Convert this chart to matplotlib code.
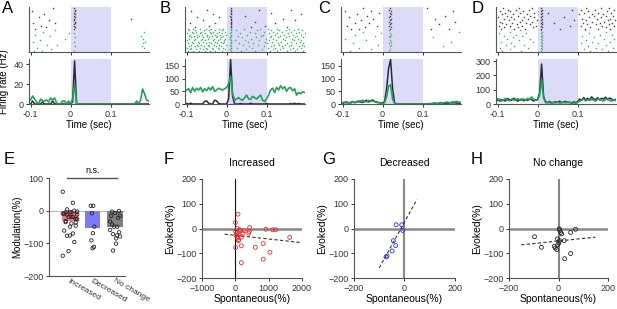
import matplotlib
matplotlib.use("Agg")
import matplotlib.pyplot as plt
import numpy as np

plt.rcParams['font.family'] = ['Liberation Sans', 'DejaVu Sans']
plt.rcParams['font.size'] = 7

W, H = 617, 309

# ---- raster spike times (ms), one list per trial, bottom row first ----
a_green = [[-92, -72, 9], [-48], [-85, 183], [10, 178], [-60, -35], [182], [-95, 9, 186],
           [-77], [-15, 180], [10], [-52, 175], [-88], [-5, 9], [-70, 184], [-40]]
a_black = [[-88, 9], [-62, 10], [-75, 8], [9], [-93, -40, 10], [11], [-55, 9], [9, 150],
           [-80, 10], [8], [-67, 10], [9], [-97, 11], [10], [-45, 9]]

b_green = [[-97, -84, -70, -55, -41, -28, -12, 10, 35, 72, 108, 126, 150, 171, 190],
           [-92, -77, -60, -49, -33, -18, -4, 9, 48, 88, 115, 133, 158, 177],
           [-99, -88, -66, -52, -37, -22, -8, 11, 25, 64, 104, 121, 142, 166, 186],
           [-94, -80, -71, -57, -45, -26, -14, 10, 57, 93, 111, 138, 155, 181, 194],
           [-90, -74, -63, -46, -31, -19, -2, 9, 40, 79, 119, 131, 147, 162, 188],
           [-96, -83, -68, -51, -39, -24, -10, 12, 30, 67, 102, 128, 152, 174, 192],
           [-86, -72, -58, -43, -29, -15, -6, 10, 53, 96, 113, 136, 160, 183],
           [-98, -81, -65, -54, -35, -21, -7, 11, 20, 45, 82, 107, 124, 145, 169, 187],
           [-93, -78, -62, -47, -32, -17, -3, 9, 61, 99, 117, 140, 163, 179],
           [-89, -75, -59, -44, -27, -13, 8, 38, 74, 109, 129, 149, 172, 191],
           [-95, -82, -69, -50, -36, -23, -9, 10, 28, 86, 112, 134, 157, 176],
           [-91, -73, -61, -48, -30, -16, -1, 11, 50, 91, 121, 143, 165, 185],
           [-99, -85, -67, -53, -40, -25, -11, 9, 33, 70, 105, 127, 153, 173, 195],
           [-87, -76, -64, -42, -34, -20, -5, 10, 58, 94, 116, 139, 161, 182],
           [-94, -79, -57, -45, -28, -12, 12, 24, 77, 110, 132, 148, 168, 189],
           [-97, -83, -66, -52, -38, -19, -8, 10, 44, 84, 103, 125, 156, 178]]
b_black = [[-80, 11, 60, 150], [-45, 10, 95], [11], [-92, -30, 10, 120], [10, 70],
           [-60, 12, 170], [11, 140], [-75, -20, 10], [9, 45], [-35, 11, 185], [10, 110],
           [-88, 11], [-50, 10, 80, 160], [12]]

c_green = [[-82, 17], [-30, 19], [-60], [18, 150], [-12, 20], [-75, 16], [21, 170], [-42, 18],
           [-95], [19, 125], [-20, 17], [-68, 20], [-5, 18], [-50, 190], [16]]
c_black = [[-78, -60, 18, 120, 165], [-45, 20], [-90, -15, 17], [19, 140], [-70, -35, 21],
           [16, 180], [-55, 18], [-25, 20, 130], [-85, 17], [-40, 19, 155], [-65, 22],
           [-10, 18], [-95, -30, 20, 175], [17], [-50, 19, 110]]

d_green = [[-88, -42, 9, 130, 176], [-70, 10, 115, 160], [-95, -25, 9, 145, 188], [-58, 10, 125],
           [-80, -33, 9, 170], [-66, 10, 108, 150], [-91, -12, 9, 135, 182], [-47, 10, 120],
           [-76, -20, 9, 165, 192], [-62, 10, 140], [-85, -38, 9, 112], [-53, 10, 155, 185],
           [-97, -28, 9, 128], [-68, 10, 172], [-45, 9, 118]]
d_black = [[-92, -60, -31, 9, 55, 118, 150, 182], [-85, -48, -12, 10, 132, 170],
           [-97, -70, -40, -5, 9, 80, 109, 161, 190], [-78, -52, -20, 10, 124, 145, 178],
           [-88, -64, -28, 8, 40, 114, 156, 186], [-95, -45, -15, 10, 137, 167],
           [-72, -38, -2, 9, 90, 120, 175, 193], [-83, -58, -25, 10, 111, 148, 181],
           [-99, -66, -33, -8, 9, 65, 128, 159], [-76, -50, -18, 10, 140, 171, 188],
           [-90, -62, -27, 9, 104, 135, 163], [-81, -43, -10, 10, 25, 117, 152, 184],
           [-94, -68, -36, 8, 127, 173], [-74, -55, -22, 10, 85, 108, 143, 191],
           [-87, -47, -14, 9, 122, 158, 179]]

# ---- PSTH (Hz), 5 ms bins from -0.1 s ----
t_bins = np.arange(60) * 0.005 - 0.1
a_psth_green = [4, 8, 5, 2, 0, 5, 3, 3, 4, 2, 6, 4, 6, 1, 0, 0, 3, 3, 0, 3,
                0, 5, 20, 0, 0, 0, 0, 0, 0, 0, 0, 0, 0, 0, 0, 0, 0, 0, 0, 0,
                0, 0, 0, 0, 0, 0, 0, 0, 0, 0, 0, 0, 0, 3, 0, 4, 15, 10, 4, 3]
a_psth_black = [0, 3, 0, 0, 0, 0, 2, 0, 0, 0, 0, 3, 0, 0, 0, 0, 0, 0, 0, 0,
                0, 2, 43, 0, 0, 0, 0, 0, 0, 0, 0, 0, 0, 0, 0, 0, 0, 0, 0, 0,
                0, 0, 0, 0, 0, 0, 0, 0, 0, 0, 0, 0, 0, 0, 0, 0, 0, 0, 0, 0]
b_psth_green = [55, 60, 45, 65, 50, 62, 55, 65, 48, 60, 52, 65, 55, 68, 50, 55, 62, 58, 55, 60,
                65, 80, 110, 40, 15, 20, 25, 18, 15, 25, 35, 20, 18, 30, 25, 20, 28, 35, 15, 10,
                20, 35, 55, 62, 45, 65, 55, 72, 60, 68, 50, 62, 65, 52, 60, 35, 45, 40, 48, 45]
b_psth_black = [2, 0, 3, 0, 0, 0, 0, 0, 0, 10, 12, 3, 0, 0, 15, 12, 2, 0, 0, 0,
                0, 20, 175, 30, 0, 0, 0, 2, 0, 0, 0, 0, 3, 0, 0, 0, 0, 0, 0, 0,
                2, 0, 0, 0, 0, 0, 0, 0, 0, 0, 0, 0, 2, 0, 3, 0, 2, 0, 0, 0]
c_psth_green = [5, 8, 4, 6, 3, 8, 5, 10, 7, 12, 15, 10, 8, 14, 10, 12, 9, 6, 5, 4,
                2, 5, 30, 70, 75, 20, 2, 0, 0, 0, 0, 0, 0, 0, 0, 0, 0, 0, 0, 0,
                0, 0, 0, 2, 0, 3, 5, 2, 4, 6, 3, 5, 8, 6, 4, 9, 7, 10, 8, 6]
c_psth_black = [3, 5, 8, 4, 6, 10, 5, 8, 12, 8, 6, 10, 15, 8, 12, 16, 10, 8, 6, 5,
                3, 10, 60, 140, 175, 60, 5, 0, 0, 0, 0, 0, 0, 0, 0, 0, 0, 0, 0, 0,
                0, 0, 0, 0, 2, 0, 3, 0, 2, 5, 3, 2, 4, 3, 6, 4, 5, 3, 4, 2]
d_psth_green = [25, 35, 20, 30, 40, 28, 22, 35, 30, 25, 38, 30, 26, 35, 28, 40, 32, 50, 30, 25,
                30, 60, 170, 40, 10, 8, 12, 5, 10, 8, 15, 6, 10, 12, 8, 15, 10, 5, 8, 6,
                10, 20, 28, 35, 22, 30, 25, 32, 28, 20, 35, 30, 25, 22, 30, 38, 25, 20, 30, 25]
d_psth_black = [35, 20, 30, 25, 22, 38, 30, 25, 40, 32, 20, 28, 35, 22, 30, 25, 35, 30, 20, 30,
                30, 80, 280, 50, 15, 10, 18, 8, 12, 15, 10, 20, 8, 15, 18, 10, 12, 8, 15, 10,
                15, 35, 25, 45, 30, 40, 28, 50, 35, 30, 45, 28, 40, 35, 48, 30, 42, 35, 25, 32]
psth_ymax = [45, 177, 177, 315]
psth_yticks = [[0, 20, 40], [0, 50, 100, 150], [0, 50, 100, 150], [0, 100, 200, 300]]

# ---- E: groups ----
groups = ['Increased', 'Decreased', 'No change']
bar_colors = ['#f07878', '#7b7bf2', '#808080']

# ---- F/G/H scatter (spontaneous %, evoked %) ----
f_spont = [80, 0, 430, 920, 1120, 1210, 1630, 600, 835, 1040, 835, 180, 180, 10,
           10, 50, 80, 100, 130, 150, 60, 230, 260, 400, 420, 110, 70, 180, 20, 90]
f_evoked = [58, 24, 4, -3, -5, -5, -36, -76, -61, -96, -124, -138, -70, -77,
            -12, -19, -32, -46, -5, -9, 0, -19, -9, -19, -12, -26, -39, -35, -26, -49]
f_fit_x, f_fit_y = [-320, 1990], [-23, -57]

g_spont = [-33, -11, -7, -44, -35, -49, -69, -73]
g_evoked = [15, 15, -8, -49, -69, -91, -111, -115]
g_fit_x, g_fit_y = [-100, 49], [-159, 117]

h_spont = [-97, -69, -17, -13, -7, -4, 3, 5, 9, 13, 4, 1, 23, 25, 49, 49, 69, -3]
h_evoked = [-33, -76, -72, -79, -85, -42, -1, -7, -16, -22, -49, -59, -49, -122, -16, -101, -3, -66]
h_fit_x, h_fit_y = [-151, 149], [-66, -35]

GREEN = '#22a05a'
DARK = '#2a2a3e'
LAV = '#dcdcf8'
SPINE = '#555555'


def axes_px(fig, left, right, top, bottom):
    return fig.add_axes([left / W, 1 - bottom / H, (right - left) / W, (bottom - top) / H])


def style(ax):
    for s in ['top', 'right']:
        ax.spines[s].set_visible(False)
    for s in ['left', 'bottom']:
        ax.spines[s].set_color(SPINE)
        ax.spines[s].set_linewidth(0.8)
    ax.tick_params(colors='#333333', length=2.5, width=0.7, labelsize=6.5, pad=1.5)


fig = plt.figure(figsize=(W / 100, H / 100), dpi=100)

rasters = [(a_green, a_black), (b_green, b_black), (c_green, c_black), (d_green, d_black)]
psths = [(a_psth_green, a_psth_black), (b_psth_green, b_psth_black),
         (c_psth_green, c_psth_black), (d_psth_green, d_psth_black)]
lefts = [29, 185, 341, 496]
letters_top = [('A', 2), ('B', 160), ('C', 318), ('D', 472)]

for i in range(4):
    l = lefts[i]
    r = l + 120
    axr = axes_px(fig, l, r, 7, 52)
    style(axr)
    axr.axvspan(0, 0.1, color=LAV, zorder=0, lw=0)
    green, black = rasters[i]
    row = 0
    for trial in green:
        axr.plot(np.array(trial) / 1000, [row] * len(trial), ls='', marker='s',
                 ms=1.0, mew=0, color='#3db070')
        row += 1
    for trial in black:
        axr.plot(np.array(trial) / 1000, [row] * len(trial), ls='', marker='s',
                 ms=1.0, mew=0, color='#404050')
        row += 1
    axr.set_xlim(-0.104, 0.196)
    axr.set_ylim(-1, row)
    axr.set_xticks([-0.1, 0, 0.1])
    axr.set_xticklabels([])
    axr.set_yticks([])

    axp = axes_px(fig, l, r, 59, 104)
    style(axp)
    axp.axvspan(0, 0.1, color=LAV, zorder=0, lw=0)
    pg, pb = psths[i]
    axp.plot(t_bins, pb, color=DARK, lw=1.1)
    axp.plot(t_bins, pg, color=GREEN, lw=1.2)
    axp.set_xlim(-0.104, 0.196)
    axp.set_ylim(0, psth_ymax[i])
    axp.set_xticks([-0.1, 0, 0.1])
    axp.set_xticklabels(['-0.1', '0', '0.1'])
    axp.set_yticks(psth_yticks[i])
    axp.set_xlabel('Time (sec)', fontsize=7, labelpad=1)
    if i == 0:
        axp.set_ylabel('Firing rate (Hz)', fontsize=7, labelpad=3)
    fig.text(letters_top[i][1] / W, 1 - 1 / H, letters_top[i][0], fontsize=12, va='top', ha='left')

# ---- E ----
axe = axes_px(fig, 49, 125, 178, 276)
style(axe)
e_vals = [f_evoked, g_evoked, h_evoked]
spreads = [0.32, 0.08, 0.22]
axe.axhline(0, color='#bbbbbb', lw=0.8, zorder=0)
for k, vals in enumerate(e_vals):
    x0 = k + 1
    axe.bar(x0, np.mean(vals), width=0.68, color=bar_colors[k], zorder=1)
    n = len(vals)
    offs = np.array([((j * 7) % 11 - 5) / 5.0 for j in range(n)]) * spreads[k]
    axe.scatter(x0 + offs, vals, s=6, facecolors='none', edgecolors='#222222',
                linewidths=0.6, zorder=2)
axe.plot([0.87, 3.1], [100, 100], color='#555555', lw=1, clip_on=False)
axe.text(2.0, 108, 'n.s.', ha='center', va='bottom', fontsize=6.5)
axe.set_xlim(0.07, 3.44)
axe.set_ylim(-200, 100)
axe.set_yticks([-200, -100, 0, 100])
axe.set_xticks([1, 2, 3])
axe.set_xticklabels(groups, rotation=-30, ha='left', va='top', rotation_mode='anchor', fontsize=6)
axe.tick_params(axis='x', length=0, pad=1)
for lab in axe.get_xticklabels():
    lab.set_x(lab.get_position()[0] - 0.3)
axe.set_ylabel('Modulation(%)', fontsize=7, labelpad=1)
fig.text(4 / W, 1 - 152 / H, 'E', fontsize=12, va='top', ha='left')

# ---- F, G, H ----
scat = [
    (f_spont, f_evoked, f_fit_x, f_fit_y, '#e03030', 'Increased', (-1000, 2000), [-1000, 0, 1000, 2000], 202, 302, 'F', 164),
    (g_spont, g_evoked, g_fit_x, g_fit_y, '#3030d0', 'Decreased', (-200, 200), [-200, 0, 200], 354, 455, 'G', 322),
    (h_spont, h_evoked, h_fit_x, h_fit_y, '#222222', 'No change', (-200, 200), [-200, 0, 200], 509, 608, 'H', 471),
]
for k, (sx, sy, fx, fy, col, title, xl, xt, l, r, let, lx) in enumerate(scat):
    ax = axes_px(fig, l, r, 179, 278)
    style(ax)
    ax.axhline(0, color='#888888', lw=1.8, zorder=1)
    if k == 0:
        ax.axvline(0, color='#111111', lw=0.8, zorder=1)
    else:
        ax.axvline(0, color='#888888', lw=1.5, zorder=1)
    ax.scatter(sx, sy, s=8, facecolors='none', edgecolors=col, linewidths=0.6, zorder=3)
    ax.plot(fx, fy, ls='--', color='#333333', lw=0.8, dashes=(3, 2), zorder=2)
    ax.set_xlim(*xl)
    ax.set_ylim(-200, 200)
    ax.set_xticks(xt)
    ax.set_yticks([-200, -100, 0, 100, 200])
    ax.set_xlabel('Spontaneous(%)', fontsize=7.5, labelpad=1)
    ax.set_ylabel('Evoked(%)', fontsize=7.5, labelpad=1)
    ax.set_title(title, fontsize=7.5, pad=9)
    fig.text(lx / W, 1 - 152 / H, let, fontsize=12, va='top', ha='left')

fig.savefig('out.png', dpi=100)
